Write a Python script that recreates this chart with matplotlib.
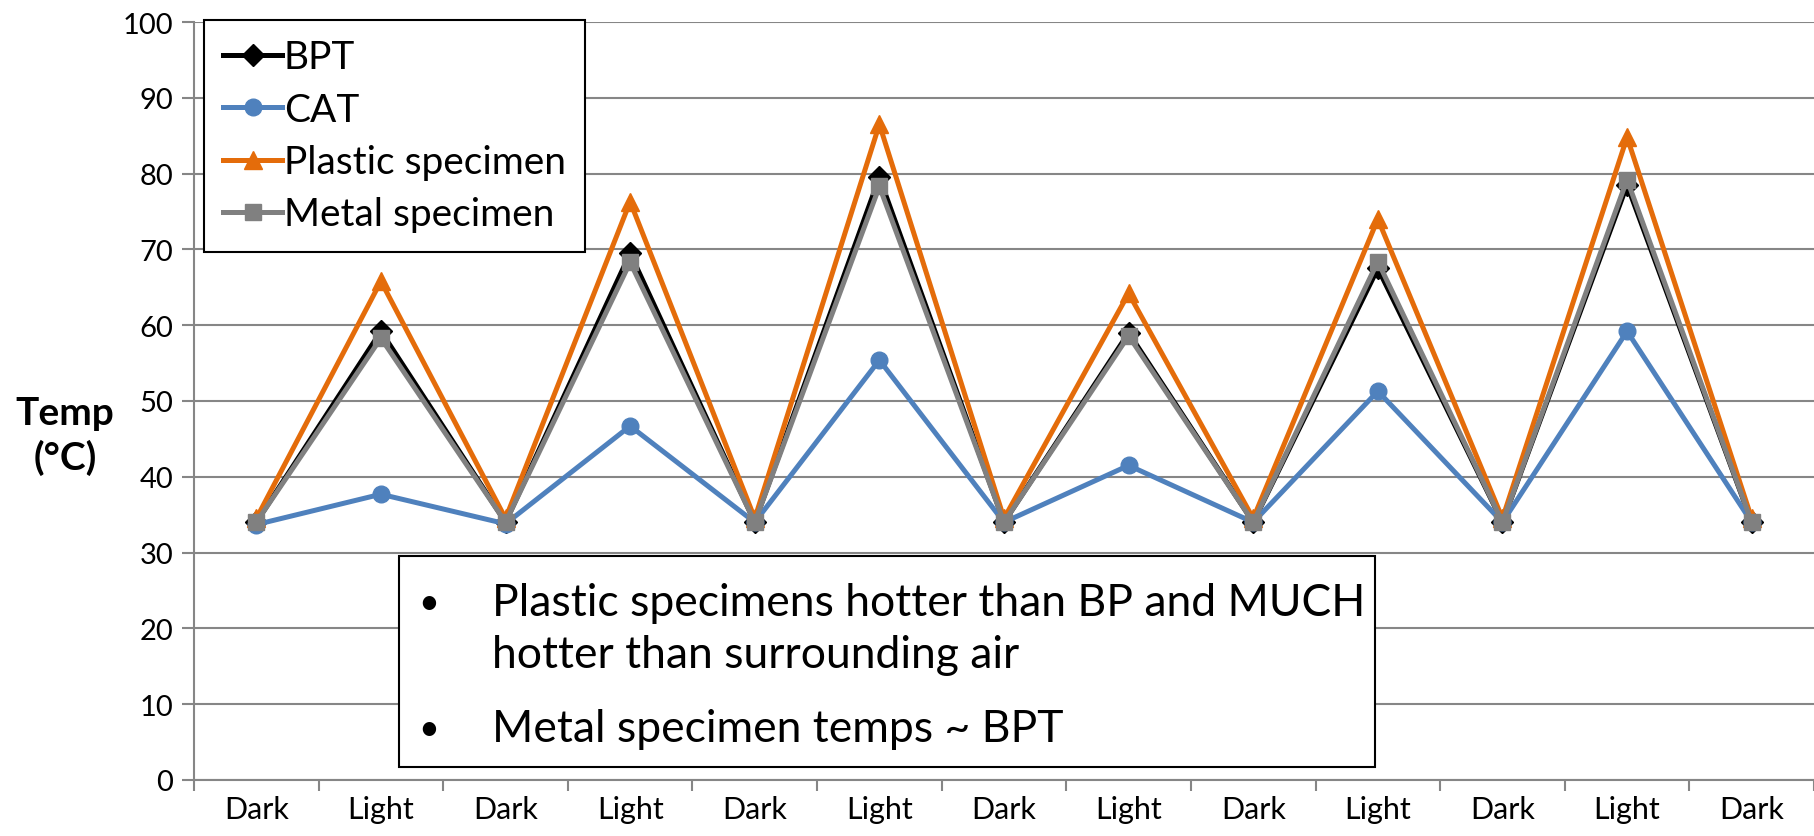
# Temperature of specimens under alternating dark / light cycles
import matplotlib
matplotlib.use('Agg')
import matplotlib.pyplot as plt
from matplotlib.patches import Rectangle

plt.rcParams['font.family'] = ['Lato', 'DejaVu Sans']

# data
phases = ['Dark', 'Light'] * 6 + ['Dark']
bpt = [34.0, 59.2, 34.0, 69.5, 34.0, 79.5, 34.0, 59.0, 34.0, 67.5, 34.0, 78.5, 34.0]
cat = [33.7, 37.7, 33.8, 46.7, 34.0, 55.4, 34.0, 41.5, 34.0, 51.3, 34.0, 59.2, 34.0]
plastic = [34.5, 65.8, 34.5, 76.3, 34.5, 86.5, 34.5, 64.2, 34.5, 74.0, 34.5, 84.8, 34.5]
metal = [34.0, 58.3, 34.0, 68.3, 34.0, 78.3, 34.0, 58.6, 34.0, 68.4, 34.0, 79.2, 34.0]

W, H = 1814, 837
fig = plt.figure(figsize=(W / 100, H / 100), dpi=100)
ax = fig.add_axes([194 / W, 1 - 781 / H, 1 - 194 / W, (781 - 23) / H])

x = list(range(len(phases)))
ax.plot(x, bpt, color='black', lw=3.6, marker='D', ms=11, label='BPT')
ax.plot(x, cat, color='#4F81BD', lw=3.6, marker='o', ms=12, label='CAT')
ax.plot(x, plastic, color='#E46C0A', lw=3.6, marker='^', ms=13, label='Plastic specimen')
ax.plot(x, metal, color='#808080', lw=3.6, marker='s', ms=12, label='Metal specimen')

ax.set_xlim(-0.5, len(phases) - 0.5)
ax.set_ylim(0, 100)
ax.set_yticks(range(0, 101, 10))
ax.set_xticks(x)
ax.set_xticklabels(phases)
ax.set_xticks([i - 0.5 for i in range(len(phases) + 1)], minor=True)
ax.tick_params(axis='x', which='major', length=0, pad=11, labelsize=22)
ax.tick_params(axis='x', which='minor', length=8, width=1.5, color='#868686')
ax.tick_params(axis='y', length=9, width=1.5, color='#868686', labelsize=21, pad=6)
ax.yaxis.grid(True, color='#868686', lw=1.5)
ax.set_axisbelow(True)
for s in ['top', 'right']:
    ax.spines[s].set_visible(False)
for s in ['left', 'bottom']:
    ax.spines[s].set_color('#868686')
    ax.spines[s].set_linewidth(1.5)

fig.text(65 / W, 1 - 436 / H, 'Temp\n(°C)', ha='center', va='center',
         fontsize=28, fontweight='bold', linespacing=1.3)

leg = ax.legend(loc='upper left', bbox_to_anchor=(204 / W, 1 - 21 / H),
                bbox_transform=fig.transFigure, borderaxespad=0, fontsize=28,
                handlelength=1.5, handletextpad=0.05, labelspacing=0.42,
                fancybox=False, framealpha=1, edgecolor='black', borderpad=0.5)
leg.get_frame().set_linewidth(1.5)

# note box
fig.patches.append(Rectangle((399 / W, 1 - 768 / H), (1375 - 399) / W, (768 - 557) / H,
                             transform=fig.transFigure, facecolor='white',
                             edgecolor='black', lw=1.5, zorder=5))
notes = [(604, '•', 'Plastic specimens hotter than BP and MUCH'),
         (656, '', 'hotter than surrounding air'),
         (730, '•', 'Metal specimen temps ~ BPT')]
for y, b, t in notes:
    if b:
        fig.text(418 / W, 1 - y / H, b, fontsize=26, va='center', zorder=6)
    fig.text(492 / W, 1 - y / H, t, fontsize=32, va='center', zorder=6)

fig.savefig('out.png', dpi=100)
